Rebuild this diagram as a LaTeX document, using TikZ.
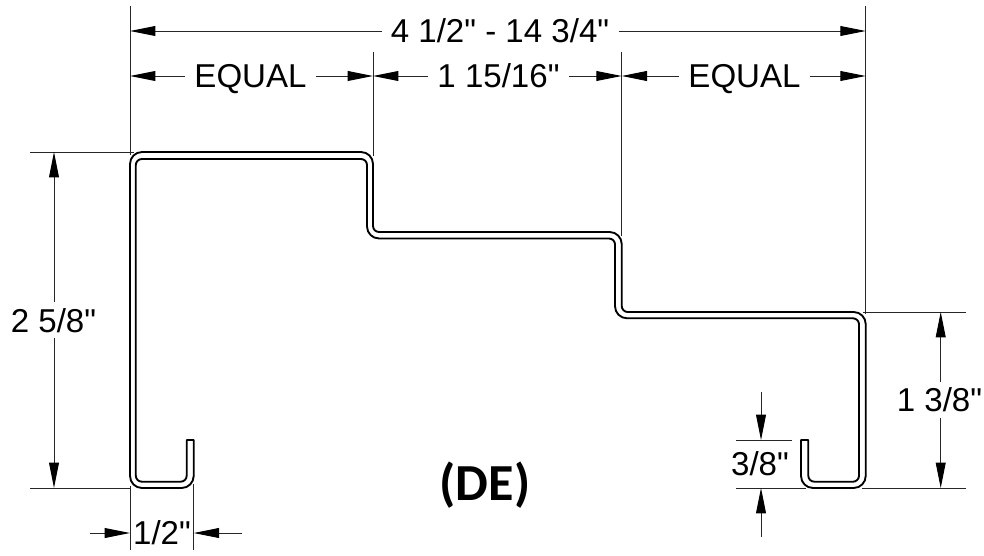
\documentclass[tikz,border=0pt]{standalone}
\usepackage{fontspec}
\newfontfamily\dimfont{Liberation Sans}
\newfontfamily\labelbold{Carlito}
\usetikzlibrary{arrows.meta,calc}
\newcommand{\cn}[3]{.. controls ($(#1)!.55!(#2)$) and ($(#3)!.55!(#2)$) .. (#3)}
\tikzset{
  x=0.75pt, y=-0.75pt,
  profile/.style={line width=1.4pt, line join=round, black},
  dimline/.style={line width=0.7pt, black!85},
  extline/.style={line width=0.7pt, black!85},
  dimarrow/.style={dimline, -{Triangle[length=19pt,width=7.4pt,color=black]}},
  dimtext/.style={font=\dimfont\fontsize{24.8}{24.8}\selectfont, inner sep=0pt, outer sep=0pt, black, anchor=base},
  gapH/.style={inner xsep=7pt, inner ysep=0pt},
  gapV/.style={inner xsep=0pt, inner ysep=4.5pt},
}
\begin{document}
\begin{tikzpicture}
\useasboundingbox (0,0) rectangle (984,556);
% profile
\draw[profile]
  (186.7,440) -- (193.7,440) -- (193.7,476) \cn{193.7,476}{193.7,488}{181.7,488}
  -- (142,488) \cn{142,488}{130,488}{130,476}
  -- (130,164) \cn{130,164}{130,152}{142,152}
  -- (361,152) \cn{361,152}{373,152}{373,164}
  -- (373,226) \cn{373,226}{373,232}{379,232}
  -- (609.7,232) \cn{609.7,232}{621.7,232}{621.7,244}
  -- (621.7,306) \cn{621.7,306}{621.7,312}{627.7,312}
  -- (853.7,312) \cn{853.7,312}{865.7,312}{865.7,324}
  -- (865.7,476) \cn{865.7,476}{865.7,488}{853.7,488}
  -- (813,488) \cn{813,488}{801,488}{801,476}
  -- (801,440) -- (808.3,440) -- (808.3,475.7) \cn{808.3,475.7}{808.3,481.7}{814.3,481.7}
  -- (853,481.7) \cn{853,481.7}{859,481.7}{859,475.7}
  -- (859,324.3) \cn{859,324.3}{859,318.3}{853,318.3}
  -- (627,318.3) \cn{627,318.3}{615,318.3}{615,306.3}
  -- (615,244.5) \cn{615,244.5}{615,238.5}{609,238.5}
  -- (379,238.5) \cn{379,238.5}{367,238.5}{367,226.5}
  -- (367,165) \cn{367,165}{367,159}{361,159}
  -- (141.8,159) \cn{141.8,159}{135.8,159}{135.8,165}
  -- (135.8,475.7) \cn{135.8,475.7}{135.8,481.7}{141.8,481.7}
  -- (180.7,481.7) \cn{180.7,481.7}{186.7,481.7}{186.7,475.7} -- cycle;
% extension lines
\coordinate (xA1) at (130,6);    \coordinate (xA2) at (130,155);
\coordinate (xB1) at (373,52);   \coordinate (xB2) at (373,156);
\coordinate (xC1) at (621.7,52); \coordinate (xC2) at (621.7,236);
\coordinate (xD1) at (865.7,6);  \coordinate (xD2) at (865.7,314);
\coordinate (yA1) at (30,152);   \coordinate (yA2) at (134,152);
\coordinate (yB1) at (30,488);   \coordinate (yB2) at (131,488);
\coordinate (yC1) at (863,312);  \coordinate (yC2) at (966,312);
\coordinate (yD1) at (862,488);  \coordinate (yD2) at (966,488);
\coordinate (yE1) at (736,440);  \coordinate (yE2) at (792,440);
\coordinate (yF1) at (736,488);  \coordinate (yF2) at (806,488);
\coordinate (xE1) at (130,486);  \coordinate (xE2) at (130,550);
\coordinate (xF1) at (193.7,484);\coordinate (xF2) at (193.7,550);
\foreach \p/\q in {xA1/xA2,xB1/xB2,xC1/xC2,xD1/xD2,yA1/yA2,yB1/yB2,yC1/yC2,yD1/yD2,yE1/yE2,yF1/yF2,xE1/xE2,xF1/xF2}
  \draw[extline] (\p) -- (\q);
% top dims
\node[dimtext,gapH] (overall) at (500,42.5) {4 1/2" - 14 3/4"};
\coordinate (t1) at (130,31); \coordinate (t2) at (865.7,31);
\draw[dimarrow] (overall.west |- t1) -- (t1);
\draw[dimarrow] (overall.east |- t2) -- (t2);
\node[dimtext,gapH] (eqL) at (250.5,88) {EQUAL};
\coordinate (a1) at (130,76); \coordinate (a2) at (373,76);
\draw[dimarrow] (eqL.west |- a1) -- (a1);
\draw[dimarrow] (eqL.east |- a2) -- (a2);
\node[dimtext,gapH] (mid) at (498.5,88) {1 15/16"};
\coordinate (a3) at (621.7,76);
\draw[dimarrow] (mid.west |- a2) -- (a2);
\draw[dimarrow] (mid.east |- a3) -- (a3);
\node[dimtext,gapH] (eqR) at (744.5,88) {EQUAL};
\coordinate (a4) at (865.7,76);
\draw[dimarrow] (eqR.west |- a3) -- (a3);
\draw[dimarrow] (eqR.east |- a4) -- (a4);
% left height
\node[dimtext,gapV] (hL) at (53.5,332) {2 5/8"};
\coordinate (l1) at (54,152); \coordinate (l2) at (54,488);
\draw[dimarrow] (hL.north -| l1) -- (l1);
\draw[dimarrow] (hL.south -| l2) -- (l2);
% right height
\node[dimtext,gapV] (hR) at (939.5,411.7) {1 3/8"};
\coordinate (r1) at (940.7,312); \coordinate (r2) at (940.7,488);
\draw[dimarrow] (hR.north -| r1) -- (r1);
\draw[dimarrow] (hR.south -| r2) -- (r2);
% 3/8
\node[dimtext] (lip) at (760,475) {3/8"};
\coordinate (p1) at (761,392); \coordinate (p2) at (761,440);
\coordinate (p3) at (761,537); \coordinate (p4) at (761,488);
\draw[dimarrow] (p1) -- (p2);
\draw[dimarrow] (p3) -- (p4);
% 1/2
\node[dimtext] (ret) at (162,544) {1/2"};
\coordinate (q1) at (90,533);  \coordinate (q2) at (130,533);
\coordinate (q3) at (242,533); \coordinate (q4) at (193.7,533);
\draw[dimarrow] (q1) -- (q2);
\draw[dimarrow] (q3) -- (q4);
% title
\node[font=\labelbold\bfseries\fontsize{39}{39}\selectfont, inner sep=0pt, anchor=base] (de) at (485,500) {(DE)};
\end{tikzpicture}
\end{document}
